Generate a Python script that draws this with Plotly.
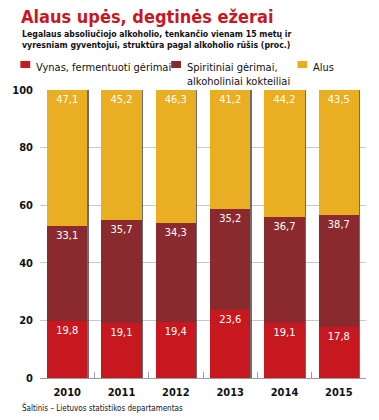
import plotly.graph_objects as go

years = ["2010", "2011", "2012", "2013", "2014", "2015"]
vynas = [19.8, 19.1, 19.4, 23.6, 19.1, 17.8]
spirit = [33.1, 35.7, 34.3, 35.2, 36.7, 38.7]
alus = [47.1, 45.2, 46.3, 41.2, 44.2, 43.5]
totals = [a + b + c for a, b, c in zip(vynas, spirit, alus)]

series_names = ["Vynas, fermentuoti gėrimai", "Spiritiniai gėrimai,<br>alkoholiniai kokteiliai", "Alus"]
colors = ["#c8181f", "#8b2a2e", "#e9ae22"]

W, H = 379, 420
L, R, T, B = 33, 13, 90, 42
PW, PH = W - L - R, H - T - B

def px(x):
    return (x - L) / PW

def py(y):
    return (H - B - y) / PH

FONT = "DejaVu Sans Condensed, Liberation Sans, sans-serif"

fig = go.Figure()
# shadow on right edge of bars
fig.add_trace(go.Bar(x=years, y=totals, xaxis="x", yaxis="y", marker=dict(color="rgba(60,60,60,0.75)", line=dict(width=0)),
                     width=0.74, offset=-0.37 + 0.025, showlegend=False, hoverinfo="skip"))
for vals, name, col in zip([vynas, spirit, alus], series_names, colors):
    fig.add_trace(go.Bar(x=years, y=vals, name=name, xaxis="x2", yaxis="y", marker=dict(color=col, line=dict(width=0)),
                         width=0.74, texttemplate="%{y:.1f}", textposition="inside", insidetextanchor="end",
                         textfont=dict(color="white", size=11, family=FONT), showlegend=False))

fig.update_layout(
    width=W, height=H, barmode="stack", separators=", ",
    margin=dict(l=L, r=R, t=T, b=B),
    paper_bgcolor="white", plot_bgcolor="white",
    font=dict(family=FONT, color="#111"),
    xaxis=dict(type="category", showgrid=False, showline=True, linecolor="#9a9a9a", linewidth=1,
               ticks="inside", tickson="boundaries", ticklen=6, tickcolor="#9a9a9a", ticklabelstandoff=4,
               tickfont=dict(size=11, family=FONT, color="#111", weight="bold"), range=[-0.5, 5.5]),
    xaxis2=dict(type="category", overlaying="x", matches="x", showticklabels=False, showgrid=False,
                showline=False, ticks="", range=[-0.5, 5.5]),
    yaxis=dict(range=[0, 100], dtick=20, showgrid=True, gridcolor="#c8c8c8", gridwidth=1, zeroline=False,
               showline=False, ticks="", ticklabelstandoff=6,
               tickfont=dict(size=11, family=FONT, color="#111", weight="bold")),
)

ann = [
    dict(text="<b>Alaus upės, degtinės ežerai</b>", x=px(12), y=py(17), xanchor="left", yanchor="middle",
         font=dict(size=18, color="#c8181f", family=FONT)),
    dict(text="<b>Legalaus absoliučiojo alkoholio, tenkančio vienam 15 metų ir<br>vyresniam gyventojui, struktūra pagal alkoholio rūšis (proc.)</b>",
         x=px(13), y=py(40), xanchor="left", yanchor="middle", align="left",
         font=dict(size=8.7, color="#111", family=FONT)),
    dict(text="Šaltinis – Lietuvos statistikos departamentas", x=px(13), y=py(407), xanchor="left", yanchor="middle",
         font=dict(size=8, color="#111", family=FONT)),
]
leg_x = [13, 167, 296]
shapes = []
for lx, name, col in zip(leg_x, series_names, colors):
    shapes.append(dict(type="rect", xref="paper", yref="paper", x0=px(lx), x1=px(lx + 10), y0=py(61), y1=py(68),
                       fillcolor=col, line=dict(width=0)))
    ann.append(dict(text=name, x=px(lx + 14), y=py(59), xanchor="left", yanchor="top", align="left",
                    font=dict(size=11, color="#111", family=FONT)))
for a in ann:
    a.setdefault("xref", "paper")
    a.setdefault("yref", "paper")
    a["showarrow"] = False
fig.update_layout(annotations=ann, shapes=shapes)

fig.write_html("out.html", config={"displayModeBar": False},
               post_script="document.body.style.margin='0';")
